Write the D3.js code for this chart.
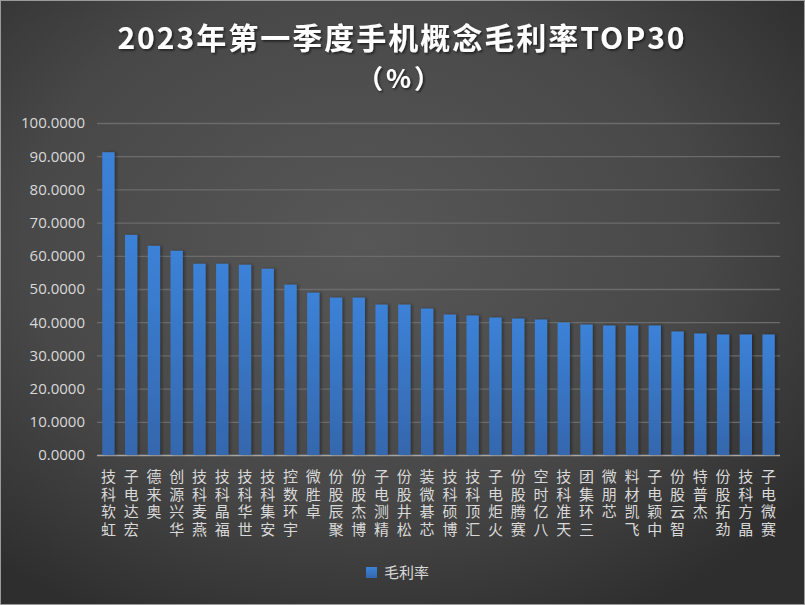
<!DOCTYPE html>
<html><head><meta charset="utf-8">
<script src="https://cdn.jsdelivr.net/npm/d3@7"></script>
<style>body{margin:0;background:#fff}svg{display:block}</style>
</head><body>
<script>
const categories = ["虹软科技","宏达电子","奥来德","华兴源创","燕麦科技","福晶科技","世华科技","安集科技","宇环数控","卓胜微","聚辰股份","博杰股份","精测电子","松井股份","芯碁微装","博硕科技","汇顶科技","火炬电子","赛腾股份","八亿时空","天准科技","三环集团","芯朋微","飞凯材料","中颖电子","智云股份","杰普特","劲拓股份","晶方科技","赛微电子"];
const values = [91.2,66.3,63.0,61.5,57.6,57.6,57.3,56.1,51.3,48.9,47.4,47.4,45.3,45.3,44.1,42.3,42.0,41.4,41.1,40.8,39.9,39.3,39.0,39.0,39.0,37.2,36.6,36.3,36.3,36.3];
const yTicks = [0,10,20,30,40,50,60,70,80,90,100];
const seriesName = "毛利率";
const titleLines = ["2023年第一季度手机概念毛利率TOP30","（%）"];

const W=805,H=605;
const svg=d3.select("body").append("svg").attr("width",W).attr("height",H);
const defs=svg.append("defs");
const bg=defs.append("radialGradient").attr("id","bg").attr("cx","45%").attr("cy","40%").attr("r","70%");
bg.append("stop").attr("offset","0%").attr("stop-color","#575757");
bg.append("stop").attr("offset","60%").attr("stop-color","#484848");
bg.append("stop").attr("offset","100%").attr("stop-color","#2e2e2e");
const bar=defs.append("linearGradient").attr("id","bar").attr("x1",0).attr("y1",0).attr("x2",0).attr("y2",1);
bar.append("stop").attr("offset","0%").attr("stop-color","#3b82d8");
bar.append("stop").attr("offset","100%").attr("stop-color","#3567ad");
const sh=defs.append("filter").attr("id","sh").attr("x","-20%").attr("y","-20%").attr("width","140%").attr("height","140%");
sh.append("feDropShadow").attr("dx",1.5).attr("dy",1.5).attr("stdDeviation",1.2).attr("flood-color","#000").attr("flood-opacity",0.6);
const bs=defs.append("filter").attr("id","bs").attr("x","-30%").attr("y","-5%").attr("width","160%").attr("height","110%");
bs.append("feDropShadow").attr("dx",2).attr("dy",0).attr("stdDeviation",1.5).attr("flood-color","#000").attr("flood-opacity",0.35);

svg.append("rect").attr("x",0.5).attr("y",0.5).attr("width",W-1).attr("height",H-1).attr("fill","url(#bg)").attr("stroke","#9a9a9a");

const m={l:97,r:780,t:123,b:455};
const x=d3.scaleBand().domain(categories).range([m.l,m.r]).paddingInner(0.46).paddingOuter(0.23);
const y=d3.scaleLinear().domain([0,100]).range([m.b,m.t]);

// title
const tg=svg.append("g").attr("filter","url(#sh)")
  .attr("font-family","'Noto Sans CJK SC','Noto Sans',sans-serif").attr("font-weight","bold").attr("fill","#fff");
tg.append("text").attr("x",402).attr("y",49).attr("text-anchor","middle")
  .attr("font-size",30).attr("letter-spacing",2).text(titleLines[0]);
tg.append("text").attr("x",400).attr("y",88).attr("text-anchor","middle")
  .attr("font-size",26).attr("letter-spacing",3).text(titleLines[1]);

// grid
const yAxis=d3.axisLeft(y).tickValues(yTicks).tickSize(-(m.r-m.l)).tickFormat(d=>d.toFixed(4)).tickPadding(12);
const ga=svg.append("g").attr("transform",`translate(${m.l},0)`).call(yAxis);
ga.select(".domain").remove();
ga.selectAll(".tick line").attr("stroke","#6b6b6b").attr("stroke-width",1.3);
ga.selectAll(".tick text").attr("fill","#d9d9d9").attr("font-size",15)
  .attr("font-family","'Open Sans','Noto Sans',sans-serif");
ga.selectAll(".tick").filter(d=>d===0).select("line").attr("stroke","#a6a6a6").attr("stroke-width",1.5);

// bars
svg.append("g").selectAll("rect").data(values).join("rect")
  .attr("x",(d,i)=>x(categories[i])).attr("width",x.bandwidth())
  .attr("y",d=>y(d)).attr("height",d=>y(0)-y(d))
  .attr("fill","url(#bar)").attr("filter","url(#bs)");

// x labels: upright characters stacked, reading bottom-to-top, anchored at top
const labelStep=17.5, labelTop=468;
const lg=svg.append("g").attr("font-family","'Liberation Sans','Noto Sans CJK SC',sans-serif")
  .attr("font-size",15).attr("fill","#d9d9d9").attr("text-anchor","middle");
categories.forEach(c=>{
  const cx=x(c)+x.bandwidth()/2;
  const chars=[...c], n=chars.length;
  lg.append("g").selectAll("text").data(chars).join("text")
    .attr("x",cx).attr("y",(d,j)=>labelTop+(n-1-j)*labelStep+14)
    .text(d=>d);
});

// legend
svg.append("rect").attr("x",366).attr("y",567).attr("width",11).attr("height",11).attr("fill","url(#bar)");
svg.append("text").attr("x",384).attr("y",578).attr("font-family","'Noto Sans CJK SC',sans-serif")
  .attr("font-size",15).attr("fill","#d9d9d9").text(seriesName);
</script>
</body></html>
